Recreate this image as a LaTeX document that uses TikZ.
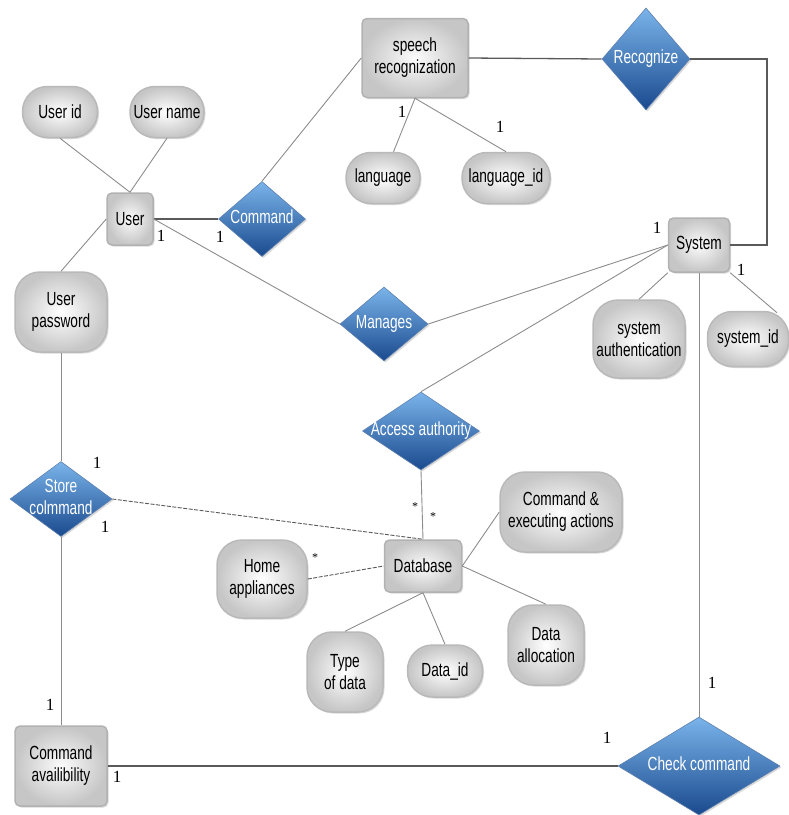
\documentclass[tikz,border=0pt]{standalone}
\usepackage{fontspec}
\setmainfont{Liberation Sans}[FakeStretch=0.72]
\newfontfamily\numfont{Liberation Serif}
\usetikzlibrary{shapes.geometric,shadows,calc}
\definecolor{dtop}{HTML}{7AB4EA}
\definecolor{dbot}{HTML}{1A4A8E}
\definecolor{lin}{HTML}{8C8C8C}
\definecolor{darklin}{HTML}{5A5A5A}
\newcommand{\reltext}[1]{\makebox[0pt]{\begin{tabular}{@{}c@{}}#1\end{tabular}}}
\tikzset{
  base/.style={inner sep=0pt, align=center, font=\fontsize{19}{22}\selectfont},
  attr/.style={base, rectangle, rounded corners=25pt, draw=gray!55, line width=1.5pt,
    inner color=white, outer color=gray!45,
    drop shadow={shadow xshift=1.5pt, shadow yshift=-1.5pt, opacity=0.3}},
  ent/.style={base, rectangle, rounded corners=5pt, draw=gray!60, line width=1.5pt,
    inner color=gray!3, outer color=gray!45,
    drop shadow={shadow xshift=1.5pt, shadow yshift=-1.5pt, opacity=0.3}},
  rel/.style={base, diamond, top color=dtop, bottom color=dbot, draw=dbot!70,
    line width=0.6pt, text=white,
    drop shadow={shadow xshift=1.5pt, shadow yshift=-1.5pt, opacity=0.3}},
  card/.style={inner sep=0pt, font={\numfont\fontsize{17}{17}\selectfont}},
  star/.style={inner sep=0pt, font={\numfont\fontsize{12}{12}\selectfont}},
  conn/.style={draw=lin, line width=0.9pt},
  strong/.style={draw=darklin, line width=1.6pt},
  dconn/.style={draw=darklin, line width=0.9pt, dash pattern=on 4pt off 1.5pt},
}
\begin{document}
\begin{tikzpicture}[x=1pt, y=-1pt]
\useasboundingbox (0,0) rectangle (789,815);
% entities
\node[ent, minimum width=46pt, minimum height=52pt] (user) at (130,219) {User};
\node[ent, minimum width=106pt, minimum height=79pt] (sp) at (415,58) {speech\\recognization};
\node[ent, minimum width=61pt, minimum height=54pt] (sys) at (699,245) {System};
\node[ent, minimum width=77pt, minimum height=52pt] (db) at (423,566) {Database};
\node[ent, minimum width=92pt, minimum height=80pt] (cav) at (61,766) {Command\\availibility};
% attributes
\node[attr, minimum width=75pt, minimum height=51pt] (uid) at (60,112) {User id};
\node[attr, minimum width=74pt, minimum height=51pt] (uname) at (167,112) {User name};
\node[attr, minimum width=92pt, minimum height=80pt] (upw) at (61,312) {User\\password};
\node[attr, minimum width=74pt, minimum height=51pt] (lang) at (383,178) {language};
\node[attr, minimum width=88pt, minimum height=51pt] (lid) at (506,178) {language\_id};
\node[attr, minimum width=92pt, minimum height=78pt] (sauth) at (639,339) {system\\authentication};
\node[attr, minimum width=81pt, minimum height=55pt] (sid) at (748,339) {system\_id};
\node[attr, minimum width=122pt, minimum height=80pt] (cea) at (561,512) {Command \&\\executing actions};
\node[attr, minimum width=90pt, minimum height=78pt] (home) at (262,579) {Home\\appliances};
\node[attr, minimum width=76pt, minimum height=80pt] (tod) at (345,672) {Type\\of data};
\node[attr, minimum width=75pt, minimum height=52pt] (did) at (445,671) {Data\_id};
\node[attr, minimum width=76pt, minimum height=80pt] (dal) at (546,645) {Data\\allocation};
% relationships
\node[rel, minimum width=87pt, minimum height=75pt] (cmd) at (262,219) {\reltext{Command}};
\node[rel, minimum width=88pt, minimum height=102pt] (rec) at (646,59) {\reltext{Recognize}};
\node[rel, minimum width=88pt, minimum height=74pt] (man) at (384,324) {\reltext{Manages}};
\node[rel, minimum width=117pt, minimum height=78pt] (acc) at (421,431) {\reltext{Access authority}};
\node[rel, minimum width=102pt, minimum height=75pt] (sto) at (61,499) {\reltext{Store\\colmmand}};
\node[rel, minimum width=162pt, minimum height=98pt] (chk) at (699,766) {\reltext{Check command}};
% connectors
\coordinate (rc) at (767,59);
\draw[conn] (uid.south) -- (user.north);
\draw[conn] (uname.south) -- (user.north);
\draw[strong] (user.east) -- (cmd.west);
\draw[conn] (cmd.north) -- (sp.west);
\draw[conn] (user.east) -- (man.west);
\draw[conn] (upw.north) -- (user.west);
\draw[conn] (sp.south) -- (lang);
\draw[conn] (sp.south) -- (lid.north);
\draw[strong, line width=1.3pt] (sp.east) -- (rec.west);
\draw[strong, line width=1.3pt] (rec.east) -- (rc) |- (sys.east);
\draw[conn] (sys.west) -- (man.east);
\draw[conn] (sys.west) -- (acc.north);
\draw[conn] (sys.south west) -- (sauth.north);
\draw[conn] (sys.south east) -- ($(sid.north)+(29,2)$);
\draw[conn] (sys.south) -- (chk.north);
\draw[conn] (upw.south) -- (sto.north);
\draw[dconn] (sto.east) -- (db.north);
\draw[conn] (acc.south) -- (db.north);
\draw[dconn] (home.east) -- (db.west);
\draw[conn] (db.east) -- (cea.west);
\draw[conn] (db.east) -- (dal.north);
\draw[conn] (db.south) -- (did.north);
\draw[conn] (db.south) -- (tod.north);
\draw[conn] (sto.south) -- (cav.north);
\draw[strong, line width=1.3pt] (cav.east) -- (chk.west);
% cardinalities
\node[card] (c1) at (161,236) {1};
\node[card] (c2) at (220,237) {1};
\node[card] (c3) at (402,112) {1};
\node[card] (c4) at (500,127) {1};
\node[card] (c5) at (657,228) {1};
\node[card] (c6) at (741,270) {1};
\node[card] (c7) at (97,463) {1};
\node[card] (c8) at (105,527) {1};
\node[card] (c9) at (50,705) {1};
\node[card] (c10) at (117,777) {1};
\node[card] (c11) at (607,738) {1};
\node[card] (c12) at (712,683) {1};
\node[star] (s1) at (415,507) {*};
\node[star] (s2) at (433,517) {*};
\node[star] (s3) at (315,558) {*};
\end{tikzpicture}
\end{document}
